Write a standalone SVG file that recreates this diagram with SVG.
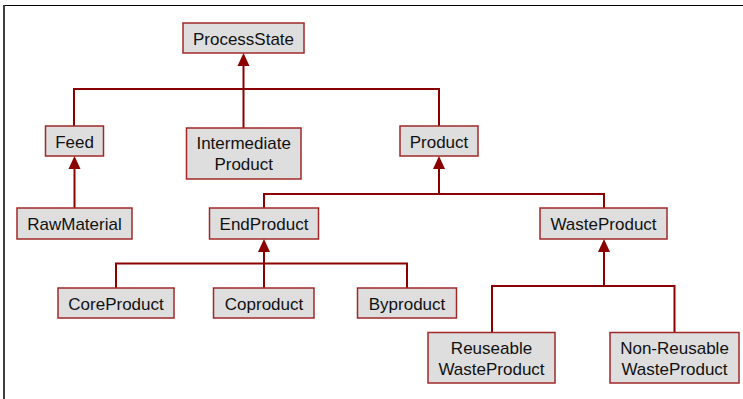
<svg xmlns="http://www.w3.org/2000/svg" width="743" height="399" viewBox="0 0 743 399">
<style>
.n rect{fill:#dedede;stroke:#a02828;stroke-width:1.5}
.n text{font-family:"Liberation Sans",Arial,sans-serif;font-size:17px;fill:#111;text-anchor:middle}
.c path{fill:none;stroke:#8b0000;stroke-width:2}
.c polygon{fill:#8b0000}
</style>
<rect width="743" height="399" fill="#fff"/>
<line x1="3" y1="5.5" x2="743" y2="5.5" stroke="#000" stroke-width="1"/>
<line x1="4" y1="5" x2="4" y2="399" stroke="#404040" stroke-width="2"/>
<g class="c" id="connectors">
<path d="M74,126 V89 H439 V126"/>
<path d="M243.5,128 V64"/>
<polygon points="243.5,53 237.5,66 249.5,66"/>
<path d="M74.5,208 V167"/>
<polygon points="74.5,156 68.5,169 80.5,169"/>
<path d="M264,208 V194 H604 V208"/>
<path d="M439,194 V167"/>
<polygon points="439,156 433,169 445,169"/>
<path d="M116,288 V263.5 H407 V288"/>
<path d="M264,288 V250"/>
<polygon points="264,239 258,252 270,252"/>
<path d="M492,332 V286 H674.5 V332"/>
<path d="M604,286 V250"/>
<polygon points="604,239 598,252 610,252"/>
</g>
<g class="n" id="ProcessState"><rect x="183" y="23" width="121" height="30"/><text x="243.5" y="44.5">ProcessState</text></g>
<g class="n" id="Feed"><rect x="45.5" y="126" width="58" height="30"/><text x="74.5" y="147.5">Feed</text></g>
<g class="n" id="IntermediateProduct"><rect x="186.5" y="128" width="114.5" height="51"/><text x="243.7" y="149">Intermediate</text><text x="243.7" y="169.5">Product</text></g>
<g class="n" id="Product"><rect x="400" y="126" width="78" height="30"/><text x="439" y="147.5">Product</text></g>
<g class="n" id="RawMaterial"><rect x="17" y="208" width="115" height="31"/><text x="74.5" y="230">RawMaterial</text></g>
<g class="n" id="EndProduct"><rect x="209.5" y="208" width="109" height="31"/><text x="264" y="230">EndProduct</text></g>
<g class="n" id="WasteProduct"><rect x="540" y="208" width="127" height="31"/><text x="603.5" y="230">WasteProduct</text></g>
<g class="n" id="CoreProduct"><rect x="58" y="288" width="116" height="30"/><text x="116" y="309.5">CoreProduct</text></g>
<g class="n" id="Coproduct"><rect x="213.5" y="288" width="100.5" height="30"/><text x="264" y="309.5">Coproduct</text></g>
<g class="n" id="Byproduct"><rect x="357.5" y="288" width="99" height="30"/><text x="407" y="309.5">Byproduct</text></g>
<g class="n" id="ReuseableWasteProduct"><rect x="428" y="332.5" width="127" height="50.5"/><text x="491.5" y="354">Reuseable</text><text x="491.5" y="374.5">WasteProduct</text></g>
<g class="n" id="NonReusableWasteProduct"><rect x="610" y="332.5" width="129" height="50.5"/><text x="674.5" y="354">Non-Reusable</text><text x="674.5" y="374.5">WasteProduct</text></g>
</svg>
